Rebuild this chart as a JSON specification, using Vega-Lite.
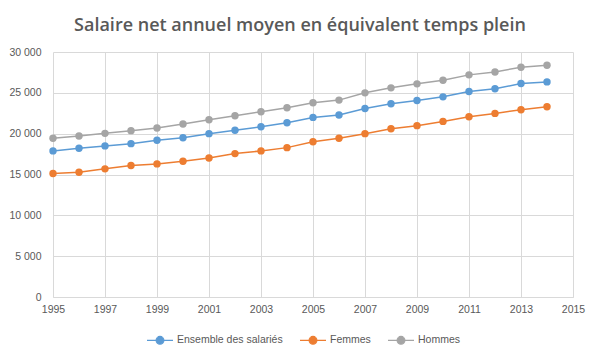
{
  "$schema": "https://vega.github.io/schema/vega-lite/v6.json",
  "autosize": "none",
  "width": 520,
  "height": 245,
  "padding": {"left": 53, "top": 52, "right": 27, "bottom": 63},
  "background": "white",
  "title": {
    "text": "Salaire net annuel moyen en équivalent temps plein",
    "font": "Open Sans",
    "fontSize": 18,
    "fontWeight": 600,
    "color": "#595959",
    "anchor": "middle",
    "dx": -13,
    "offset": 12
  },
  "data": {
    "values": [
      {"annee": 1995, "serie": "Ensemble des salariés", "salaire": 17890},
      {"annee": 1996, "serie": "Ensemble des salariés", "salaire": 18210},
      {"annee": 1997, "serie": "Ensemble des salariés", "salaire": 18500},
      {"annee": 1998, "serie": "Ensemble des salariés", "salaire": 18780},
      {"annee": 1999, "serie": "Ensemble des salariés", "salaire": 19190},
      {"annee": 2000, "serie": "Ensemble des salariés", "salaire": 19510},
      {"annee": 2001, "serie": "Ensemble des salariés", "salaire": 20000},
      {"annee": 2002, "serie": "Ensemble des salariés", "salaire": 20410},
      {"annee": 2003, "serie": "Ensemble des salariés", "salaire": 20850},
      {"annee": 2004, "serie": "Ensemble des salariés", "salaire": 21340},
      {"annee": 2005, "serie": "Ensemble des salariés", "salaire": 21990},
      {"annee": 2006, "serie": "Ensemble des salariés", "salaire": 22280},
      {"annee": 2007, "serie": "Ensemble des salariés", "salaire": 23090},
      {"annee": 2008, "serie": "Ensemble des salariés", "salaire": 23660},
      {"annee": 2009, "serie": "Ensemble des salariés", "salaire": 24070},
      {"annee": 2010, "serie": "Ensemble des salariés", "salaire": 24510},
      {"annee": 2011, "serie": "Ensemble des salariés", "salaire": 25160},
      {"annee": 2012, "serie": "Ensemble des salariés", "salaire": 25490},
      {"annee": 2013, "serie": "Ensemble des salariés", "salaire": 26140},
      {"annee": 2014, "serie": "Ensemble des salariés", "salaire": 26340},
      {"annee": 1995, "serie": "Femmes", "salaire": 15120},
      {"annee": 1996, "serie": "Femmes", "salaire": 15280},
      {"annee": 1997, "serie": "Femmes", "salaire": 15690},
      {"annee": 1998, "serie": "Femmes", "salaire": 16100},
      {"annee": 1999, "serie": "Femmes", "salaire": 16300},
      {"annee": 2000, "serie": "Femmes", "salaire": 16630},
      {"annee": 2001, "serie": "Femmes", "salaire": 17030},
      {"annee": 2002, "serie": "Femmes", "salaire": 17560},
      {"annee": 2003, "serie": "Femmes", "salaire": 17890},
      {"annee": 2004, "serie": "Femmes", "salaire": 18290},
      {"annee": 2005, "serie": "Femmes", "salaire": 19020},
      {"annee": 2006, "serie": "Femmes", "salaire": 19430},
      {"annee": 2007, "serie": "Femmes", "salaire": 20000},
      {"annee": 2008, "serie": "Femmes", "salaire": 20610},
      {"annee": 2009, "serie": "Femmes", "salaire": 20980},
      {"annee": 2010, "serie": "Femmes", "salaire": 21500},
      {"annee": 2011, "serie": "Femmes", "salaire": 22070},
      {"annee": 2012, "serie": "Femmes", "salaire": 22480},
      {"annee": 2013, "serie": "Femmes", "salaire": 22930},
      {"annee": 2014, "serie": "Femmes", "salaire": 23290},
      {"annee": 1995, "serie": "Hommes", "salaire": 19430},
      {"annee": 1996, "serie": "Hommes", "salaire": 19720},
      {"annee": 1997, "serie": "Hommes", "salaire": 20040},
      {"annee": 1998, "serie": "Hommes", "salaire": 20370},
      {"annee": 1999, "serie": "Hommes", "salaire": 20690},
      {"annee": 2000, "serie": "Hommes", "salaire": 21180},
      {"annee": 2001, "serie": "Hommes", "salaire": 21710},
      {"annee": 2002, "serie": "Hommes", "salaire": 22200},
      {"annee": 2003, "serie": "Hommes", "salaire": 22680},
      {"annee": 2004, "serie": "Hommes", "salaire": 23170},
      {"annee": 2005, "serie": "Hommes", "salaire": 23780},
      {"annee": 2006, "serie": "Hommes", "salaire": 24110},
      {"annee": 2007, "serie": "Hommes", "salaire": 25000},
      {"annee": 2008, "serie": "Hommes", "salaire": 25610},
      {"annee": 2009, "serie": "Hommes", "salaire": 26100},
      {"annee": 2010, "serie": "Hommes", "salaire": 26540},
      {"annee": 2011, "serie": "Hommes", "salaire": 27200},
      {"annee": 2012, "serie": "Hommes", "salaire": 27560},
      {"annee": 2013, "serie": "Hommes", "salaire": 28130},
      {"annee": 2014, "serie": "Hommes", "salaire": 28370}
    ]
  },
  "mark": {"type": "line", "strokeWidth": 1.5, "point": {"filled": true, "size": 55, "opacity": 1}},
  "encoding": {
    "x": {
      "field": "annee",
      "type": "quantitative",
      "scale": {"domain": [1995, 2015], "nice": false, "zero": false},
      "axis": {
        "title": null,
        "values": [1995, 1997, 1999, 2001, 2003, 2005, 2007, 2009, 2011, 2013, 2015],
        "format": "d",
        "grid": true,
        "gridColor": "#D9D9D9",
        "domainColor": "#D9D9D9",
        "ticks": false,
        "labelFlush": false,
        "labelOverlap": false,
        "labelPadding": 7,
        "labelFont": "Liberation Sans",
        "labelFontSize": 10.5,
        "labelColor": "#595959"
      }
    },
    "y": {
      "field": "salaire",
      "type": "quantitative",
      "scale": {"domain": [0, 30000], "nice": false},
      "axis": {
        "title": null,
        "values": [0, 5000, 10000, 15000, 20000, 25000, 30000],
        "labelExpr": "replace(format(datum.value, ','), ',', ' ')",
        "grid": true,
        "gridColor": "#D9D9D9",
        "domain": false,
        "ticks": false,
        "labelPadding": 12,
        "labelFont": "Liberation Sans",
        "labelFontSize": 10.5,
        "labelColor": "#595959"
      }
    },
    "color": {
      "field": "serie",
      "type": "nominal",
      "scale": {
        "domain": ["Ensemble des salariés", "Femmes", "Hommes"],
        "range": ["#5B9BD5", "#ED7D31", "#A5A5A5"]
      },
      "legend": {
        "title": null,
        "orient": "none",
        "direction": "horizontal",
        "legendX": 93,
        "legendY": 274,
        "symbolType": "M-1,0 L1,0 M-0.3,0 A0.3,0.3 0 1,0 0.3,0 A0.3,0.3 0 1,0 -0.3,0",
        "symbolSize": 676,
        "symbolStrokeWidth": 1.2,
        "labelFont": "Liberation Sans",
        "labelFontSize": 10.5,
        "labelColor": "#595959",
        "columnPadding": 14,
        "labelOffset": 3,
        "encode": {
          "symbols": {
            "update": {
              "shape": {"value": "M-1,0 L1,0 M-0.3,0 A0.3,0.3 0 1,0 0.3,0 A0.3,0.3 0 1,0 -0.3,0"},
              "size": {"value": 676},
              "strokeWidth": {"value": 1.2},
              "opacity": {"value": 1},
              "stroke": {"signal": "scale('color', datum.value)"},
              "fill": {"signal": "scale('color', datum.value)"}
            }
          }
        }
      }
    }
  },
  "config": {"view": {"stroke": null}}
}
